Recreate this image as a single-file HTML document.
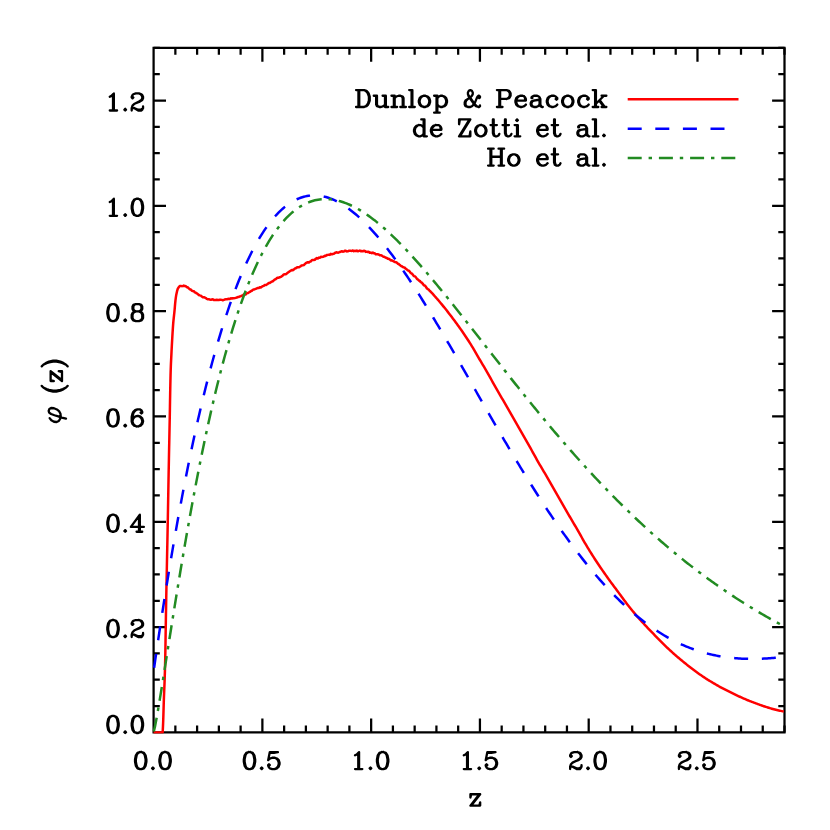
<!DOCTYPE html>
<html><head><meta charset="utf-8"><title>N(z)</title><style>html,body{margin:0;padding:0;background:#fff;font-family:"Liberation Sans",sans-serif}body{width:830px;height:830px;overflow:hidden;position:relative}</style></head><body>
<svg width="830" height="830" viewBox="0 0 830 830" style="position:absolute;left:0;top:0">
<rect x="0" y="0" width="830" height="830" fill="#fff"/>
<path d="M153.60 47.85 H784.50 V732.40 H153.60 Z" fill="none" stroke="#000" stroke-width="2.25" stroke-linejoin="miter"/>
<path d="M175.36 732.40 v-7.00 M175.36 47.85 v7.00 M197.11 732.40 v-7.00 M197.11 47.85 v7.00 M218.87 732.40 v-7.00 M218.87 47.85 v7.00 M240.62 732.40 v-7.00 M240.62 47.85 v7.00 M262.38 732.40 v-14.00 M262.38 47.85 v14.00 M284.13 732.40 v-7.00 M284.13 47.85 v7.00 M305.89 732.40 v-7.00 M305.89 47.85 v7.00 M327.64 732.40 v-7.00 M327.64 47.85 v7.00 M349.40 732.40 v-7.00 M349.40 47.85 v7.00 M371.15 732.40 v-14.00 M371.15 47.85 v14.00 M392.91 732.40 v-7.00 M392.91 47.85 v7.00 M414.66 732.40 v-7.00 M414.66 47.85 v7.00 M436.42 732.40 v-7.00 M436.42 47.85 v7.00 M458.17 732.40 v-7.00 M458.17 47.85 v7.00 M479.93 732.40 v-14.00 M479.93 47.85 v14.00 M501.68 732.40 v-7.00 M501.68 47.85 v7.00 M523.44 732.40 v-7.00 M523.44 47.85 v7.00 M545.19 732.40 v-7.00 M545.19 47.85 v7.00 M566.95 732.40 v-7.00 M566.95 47.85 v7.00 M588.70 732.40 v-14.00 M588.70 47.85 v14.00 M610.46 732.40 v-7.00 M610.46 47.85 v7.00 M632.21 732.40 v-7.00 M632.21 47.85 v7.00 M653.97 732.40 v-7.00 M653.97 47.85 v7.00 M675.72 732.40 v-7.00 M675.72 47.85 v7.00 M697.48 732.40 v-14.00 M697.48 47.85 v14.00 M719.23 732.40 v-7.00 M719.23 47.85 v7.00 M740.99 732.40 v-7.00 M740.99 47.85 v7.00 M762.74 732.40 v-7.00 M762.74 47.85 v7.00 M784.50 732.40 v-7.00 M784.50 47.85 v7.00 M153.60 706.07 h6.20 M784.50 706.07 h-6.20 M153.60 679.74 h6.20 M784.50 679.74 h-6.20 M153.60 653.41 h6.20 M784.50 653.41 h-6.20 M153.60 627.08 h12.40 M784.50 627.08 h-12.40 M153.60 600.76 h6.20 M784.50 600.76 h-6.20 M153.60 574.43 h6.20 M784.50 574.43 h-6.20 M153.60 548.10 h6.20 M784.50 548.10 h-6.20 M153.60 521.77 h12.40 M784.50 521.77 h-12.40 M153.60 495.44 h6.20 M784.50 495.44 h-6.20 M153.60 469.11 h6.20 M784.50 469.11 h-6.20 M153.60 442.78 h6.20 M784.50 442.78 h-6.20 M153.60 416.45 h12.40 M784.50 416.45 h-12.40 M153.60 390.12 h6.20 M784.50 390.12 h-6.20 M153.60 363.80 h6.20 M784.50 363.80 h-6.20 M153.60 337.47 h6.20 M784.50 337.47 h-6.20 M153.60 311.14 h12.40 M784.50 311.14 h-12.40 M153.60 284.81 h6.20 M784.50 284.81 h-6.20 M153.60 258.48 h6.20 M784.50 258.48 h-6.20 M153.60 232.15 h6.20 M784.50 232.15 h-6.20 M153.60 205.82 h12.40 M784.50 205.82 h-12.40 M153.60 179.49 h6.20 M784.50 179.49 h-6.20 M153.60 153.17 h6.20 M784.50 153.17 h-6.20 M153.60 126.84 h6.20 M784.50 126.84 h-6.20 M153.60 100.51 h12.40 M784.50 100.51 h-12.40 M153.60 74.18 h6.20 M784.50 74.18 h-6.20 M153.60 47.85 h6.20 M784.50 47.85 h-6.20" fill="none" stroke="#000" stroke-width="2.25"/>
<defs><clipPath id="cp"><rect x="152.60" y="46.85" width="632.90" height="686.55"/></clipPath></defs>
<g clip-path="url(#cp)" fill="none" stroke-width="2.50" stroke-linejoin="round">
<path d="M153.60 732.40 L162.65 732.40 L162.83 729.40 L162.98 726.40 L163.11 723.40 L163.22 720.40 L163.32 717.40 L163.41 714.40 L163.50 711.40 L163.59 708.40 L163.68 705.40 L163.77 702.40 L163.87 699.40 L163.98 696.40 L164.10 693.40 L164.22 690.40 L164.35 687.40 L164.47 684.40 L164.58 681.40 L164.69 678.40 L164.78 675.40 L164.88 672.40 L164.96 669.40 L165.05 666.40 L165.12 663.40 L165.19 660.40 L165.25 657.40 L165.31 654.40 L165.36 651.40 L165.41 648.40 L165.46 645.40 L165.51 642.40 L165.55 639.40 L165.60 636.40 L165.64 633.40 L165.69 630.40 L165.74 627.40 L165.79 624.40 L165.84 621.40 L165.89 618.40 L165.94 615.40 L165.99 612.40 L166.04 609.40 L166.09 606.40 L166.14 603.40 L166.19 600.40 L166.25 597.40 L166.30 594.40 L166.36 591.40 L166.42 588.40 L166.48 585.40 L166.54 582.40 L166.61 579.40 L166.67 576.40 L166.73 573.40 L166.79 570.40 L166.85 567.40 L166.91 564.40 L166.97 561.40 L167.03 558.40 L167.09 555.40 L167.15 552.40 L167.22 549.40 L167.28 546.40 L167.34 543.40 L167.40 540.40 L167.46 537.40 L167.52 534.40 L167.58 531.40 L167.64 528.40 L167.70 525.40 L167.75 522.40 L167.81 519.40 L167.87 516.40 L167.92 513.40 L167.98 510.40 L168.03 507.40 L168.08 504.40 L168.14 501.40 L168.19 498.40 L168.24 495.40 L168.30 492.40 L168.35 489.40 L168.40 486.40 L168.45 483.40 L168.51 480.40 L168.56 477.40 L168.62 474.40 L168.67 471.40 L168.73 468.40 L168.79 465.40 L168.85 462.40 L168.91 459.40 L168.96 456.40 L169.02 453.40 L169.08 450.40 L169.14 447.40 L169.21 444.40 L169.27 441.40 L169.33 438.40 L169.39 435.40 L169.45 432.40 L169.51 429.40 L169.57 426.40 L169.63 423.40 L169.69 420.40 L169.75 417.40 L169.81 414.40 L169.86 411.40 L169.91 408.40 L169.96 405.40 L170.01 402.40 L170.06 399.40 L170.12 396.40 L170.17 393.40 L170.22 390.40 L170.28 387.40 L170.34 384.40 L170.41 381.40 L170.48 378.40 L170.55 375.40 L170.63 372.40 L170.72 369.40 L170.83 366.40 L170.95 363.40 L171.10 360.40 L171.25 357.40 L171.40 354.40 L171.54 351.40 L171.70 348.40 L171.85 345.40 L172.02 342.40 L172.19 339.40 L172.36 336.40 L172.54 333.40 L172.73 330.40 L172.92 327.40 L173.14 324.40 L173.39 321.40 L173.70 318.40 L174.03 315.40 L174.36 312.40 L174.65 309.40 L174.90 306.40 L175.16 303.40 L175.47 300.40 L175.85 297.40 L176.33 294.40 L176.99 291.40 L177.80 288.70 L178.80 287.17 L179.80 285.98 L180.80 285.91 L181.80 286.13 L182.80 286.11 L183.80 285.55 L184.80 286.03 L185.80 286.32 L186.80 287.17 L187.80 287.33 L188.80 288.40 L189.80 289.27 L190.80 289.55 L191.80 290.57 L192.80 291.11 L193.80 291.17 L194.80 292.33 L195.80 292.66 L196.80 293.46 L197.80 293.99 L198.80 295.05 L199.80 295.40 L200.80 295.66 L201.80 296.54 L202.80 297.25 L203.80 297.21 L204.80 297.51 L205.80 298.02 L206.80 298.89 L207.80 299.22 L208.80 299.18 L209.80 299.63 L210.80 299.75 L211.80 299.47 L212.80 299.36 L213.80 300.07 L214.80 300.09 L215.80 299.95 L216.80 299.82 L217.80 299.99 L218.80 300.03 L219.80 299.79 L220.80 299.77 L221.80 299.88 L222.80 300.23 L223.80 299.87 L224.80 299.47 L225.80 299.34 L226.80 299.37 L227.80 298.98 L228.80 298.82 L229.80 298.97 L230.80 298.35 L231.80 298.54 L232.80 298.20 L233.80 298.32 L234.80 298.13 L235.80 297.84 L236.80 297.58 L237.80 297.00 L238.80 297.01 L239.80 296.37 L240.80 296.26 L241.80 295.63 L242.80 295.34 L243.80 294.50 L244.80 294.22 L245.80 294.47 L246.80 293.23 L247.80 293.13 L248.80 292.50 L249.80 291.98 L250.80 291.17 L251.80 290.79 L252.80 289.83 L253.80 289.44 L254.80 289.21 L255.80 288.82 L256.80 288.41 L257.80 288.05 L258.80 288.06 L259.80 287.25 L260.80 287.55 L261.80 286.80 L262.80 286.18 L263.80 285.85 L264.80 284.92 L265.80 285.08 L266.80 284.49 L267.80 283.86 L268.80 283.08 L269.80 282.91 L270.80 282.25 L271.80 281.59 L272.80 281.25 L273.80 280.37 L274.80 279.51 L275.80 279.12 L276.80 278.21 L277.80 277.68 L278.80 277.69 L279.80 277.24 L280.80 276.91 L281.80 276.26 L282.80 275.42 L283.80 274.42 L284.80 274.26 L285.80 274.15 L286.80 273.45 L287.80 272.60 L288.80 272.03 L289.80 271.25 L290.80 270.66 L291.80 270.02 L292.80 270.31 L293.80 269.54 L294.80 268.55 L295.80 268.34 L296.80 267.52 L297.80 267.22 L298.80 267.29 L299.80 266.74 L300.80 266.09 L301.80 265.40 L302.80 265.29 L303.80 265.10 L304.80 264.08 L305.80 263.22 L306.80 262.71 L307.80 262.22 L308.80 262.58 L309.80 261.65 L310.80 261.44 L311.80 260.30 L312.80 259.94 L313.80 259.94 L314.80 259.73 L315.80 258.77 L316.80 258.11 L317.80 258.54 L318.80 257.62 L319.80 257.73 L320.80 256.83 L321.80 257.05 L322.80 256.89 L323.80 256.48 L324.80 255.81 L325.80 255.88 L326.80 255.00 L327.80 254.89 L328.80 254.71 L329.80 254.89 L330.80 253.88 L331.80 254.33 L332.80 253.96 L333.80 253.86 L334.80 252.98 L335.80 252.56 L336.80 252.33 L337.80 252.65 L338.80 252.51 L339.80 251.99 L340.80 251.56 L341.80 251.21 L342.80 251.66 L343.80 251.61 L344.80 250.76 L345.80 250.83 L346.80 251.39 L347.80 251.36 L348.80 250.78 L349.80 250.71 L350.80 250.82 L351.80 250.90 L352.80 250.43 L353.80 251.14 L354.80 250.82 L355.80 251.04 L356.80 250.47 L357.80 251.19 L358.80 250.96 L359.80 250.54 L360.80 251.17 L361.80 251.03 L362.80 251.35 L363.80 250.76 L364.80 250.99 L365.80 251.89 L366.80 251.63 L367.80 252.02 L368.80 251.84 L369.80 252.86 L370.80 252.58 L371.80 253.13 L372.80 252.63 L373.80 253.32 L374.80 253.21 L375.80 254.37 L376.80 254.27 L377.80 254.23 L378.80 254.57 L379.80 255.36 L380.80 255.23 L381.80 255.68 L382.80 256.29 L383.80 256.74 L384.80 257.24 L385.80 257.75 L386.80 258.00 L387.80 258.77 L388.80 258.84 L389.80 259.47 L390.80 260.49 L391.80 260.33 L392.80 260.87 L393.80 261.37 L394.80 262.10 L395.80 262.13 L396.80 262.70 L397.80 263.70 L398.80 263.98 L399.80 265.10 L400.80 265.84 L401.80 266.26 L402.80 267.02 L403.80 267.37 L404.80 267.70 L405.80 268.78 L406.80 269.43 L407.80 270.41 L408.80 270.74 L409.80 271.68 L410.80 273.15 L411.80 273.53 L412.80 274.61 L413.80 276.07 L414.80 276.34 L415.80 277.15 L416.80 278.66 L417.80 279.48 L418.80 280.49 L419.80 280.87 L420.80 282.18 L421.80 282.68 L422.80 283.83 L423.80 285.19 L424.80 285.45 L425.80 286.60 L426.80 288.23 L427.80 289.18 L428.80 289.69 L429.80 290.97 L430.80 291.79 L431.80 292.87 L432.80 293.96 L433.80 295.08 L434.80 296.21 L435.80 297.34 L436.80 298.49 L437.80 299.64 L438.80 300.80 L439.80 301.99 L440.80 303.18 L441.80 304.39 L442.80 305.61 L443.80 306.84 L444.80 308.08 L445.80 309.33 L446.80 310.59 L447.80 311.86 L448.80 313.15 L449.80 314.44 L450.80 315.75 L451.80 317.07 L452.80 318.40 L453.80 319.73 L454.80 321.08 L455.80 322.44 L456.80 323.80 L457.80 325.18 L458.80 326.57 L459.80 327.97 L460.80 329.39 L461.80 330.82 L462.80 332.27 L463.80 333.73 L464.80 335.20 L465.80 336.69 L466.80 338.19 L467.80 339.72 L468.80 341.26 L469.80 342.83 L470.80 344.42 L471.80 346.05 L472.80 347.73 L473.80 349.43 L474.80 351.15 L475.80 352.88 L476.80 354.62 L477.80 356.35 L478.80 358.06 L479.80 359.75 L480.80 361.44 L481.80 363.12 L482.80 364.80 L483.80 366.48 L484.80 368.17 L485.80 369.87 L486.80 371.58 L487.80 373.32 L488.80 375.09 L489.80 376.89 L490.80 378.70 L491.80 380.52 L492.80 382.34 L493.80 384.15 L494.80 385.95 L495.80 387.72 L496.80 389.47 L497.80 391.20 L498.80 392.91 L499.80 394.61 L500.80 396.31 L501.80 398.01 L502.80 399.72 L503.80 401.43 L504.80 403.17 L505.80 404.92 L506.80 406.68 L507.80 408.44 L508.80 410.20 L509.80 411.95 L510.80 413.70 L511.80 415.44 L512.80 417.18 L513.80 418.92 L514.80 420.66 L515.80 422.40 L516.80 424.14 L517.80 425.88 L518.80 427.63 L519.80 429.37 L520.80 431.12 L521.80 432.86 L522.80 434.60 L523.80 436.35 L524.80 438.09 L525.80 439.84 L526.80 441.60 L527.80 443.36 L528.80 445.12 L529.80 446.90 L530.80 448.70 L531.80 450.50 L532.80 452.31 L533.80 454.12 L534.80 455.93 L535.80 457.73 L536.80 459.52 L537.80 461.30 L538.80 463.05 L539.80 464.78 L540.80 466.49 L541.80 468.18 L542.80 469.87 L543.80 471.55 L544.80 473.23 L545.80 474.91 L546.80 476.60 L547.80 478.31 L548.80 480.04 L549.80 481.77 L550.80 483.51 L551.80 485.26 L552.80 487.02 L553.80 488.77 L554.80 490.53 L555.80 492.29 L556.80 494.05 L557.80 495.80 L558.80 497.55 L559.80 499.31 L560.80 501.07 L561.80 502.83 L562.80 504.59 L563.80 506.35 L564.80 508.10 L565.80 509.85 L566.80 511.59 L567.80 513.32 L568.80 515.04 L569.80 516.75 L570.80 518.45 L571.80 520.15 L572.80 521.85 L573.80 523.55 L574.80 525.25 L575.80 526.96 L576.80 528.68 L577.80 530.42 L578.80 532.17 L579.80 533.94 L580.80 535.72 L581.80 537.50 L582.80 539.27 L583.80 541.03 L584.80 542.77 L585.80 544.48 L586.80 546.17 L587.80 547.82 L588.80 549.46 L589.80 551.09 L590.80 552.70 L591.80 554.29 L592.80 555.86 L593.80 557.42 L594.80 558.97 L595.80 560.50 L596.80 562.02 L597.80 563.52 L598.80 565.01 L599.80 566.49 L600.80 567.95 L601.80 569.41 L602.80 570.86 L603.80 572.29 L604.80 573.72 L605.80 575.14 L606.80 576.55 L607.80 577.96 L608.80 579.36 L609.80 580.75 L610.80 582.12 L611.80 583.48 L612.80 584.83 L613.80 586.18 L614.80 587.51 L615.80 588.85 L616.80 590.19 L617.80 591.52 L618.80 592.87 L619.80 594.22 L620.80 595.59 L621.80 596.96 L622.80 598.32 L623.80 599.68 L624.80 601.03 L625.80 602.37 L626.80 603.69 L627.80 604.99 L628.80 606.26 L629.80 607.52 L630.80 608.76 L631.80 609.99 L632.80 611.21 L633.80 612.41 L634.80 613.60 L635.80 614.78 L636.80 615.95 L637.80 617.10 L638.80 618.24 L639.80 619.37 L640.80 620.48 L641.80 621.58 L642.80 622.67 L643.80 623.75 L644.80 624.82 L645.80 625.89 L646.80 626.96 L647.80 628.02 L648.80 629.07 L649.80 630.12 L650.80 631.16 L651.80 632.19 L652.80 633.22 L653.80 634.24 L654.80 635.26 L655.80 636.28 L656.80 637.30 L657.80 638.31 L658.80 639.33 L659.80 640.35 L660.80 641.36 L661.80 642.38 L662.80 643.38 L663.80 644.38 L664.80 645.36 L665.80 646.34 L666.80 647.30 L667.80 648.24 L668.80 649.18 L669.80 650.10 L670.80 651.02 L671.80 651.93 L672.80 652.83 L673.80 653.72 L674.80 654.60 L675.80 655.48 L676.80 656.35 L677.80 657.21 L678.80 658.06 L679.80 658.91 L680.80 659.75 L681.80 660.58 L682.80 661.40 L683.80 662.22 L684.80 663.03 L685.80 663.84 L686.80 664.64 L687.80 665.43 L688.80 666.22 L689.80 667.01 L690.80 667.78 L691.80 668.55 L692.80 669.32 L693.80 670.07 L694.80 670.82 L695.80 671.55 L696.80 672.28 L697.80 673.00 L698.80 673.70 L699.80 674.40 L700.80 675.08 L701.80 675.76 L702.80 676.44 L703.80 677.11 L704.80 677.77 L705.80 678.43 L706.80 679.08 L707.80 679.71 L708.80 680.34 L709.80 680.95 L710.80 681.55 L711.80 682.14 L712.80 682.73 L713.80 683.32 L714.80 683.92 L715.80 684.51 L716.80 685.11 L717.80 685.69 L718.80 686.27 L719.80 686.83 L720.80 687.38 L721.80 687.91 L722.80 688.43 L723.80 688.94 L724.80 689.45 L725.80 689.95 L726.80 690.45 L727.80 690.95 L728.80 691.44 L729.80 691.93 L730.80 692.42 L731.80 692.91 L732.80 693.39 L733.80 693.88 L734.80 694.37 L735.80 694.86 L736.80 695.34 L737.80 695.81 L738.80 696.28 L739.80 696.74 L740.80 697.19 L741.80 697.64 L742.80 698.09 L743.80 698.53 L744.80 698.96 L745.80 699.39 L746.80 699.81 L747.80 700.23 L748.80 700.64 L749.80 701.04 L750.80 701.44 L751.80 701.82 L752.80 702.20 L753.80 702.57 L754.80 702.94 L755.80 703.31 L756.80 703.69 L757.80 704.06 L758.80 704.44 L759.80 704.81 L760.80 705.17 L761.80 705.53 L762.80 705.87 L763.80 706.20 L764.80 706.52 L765.80 706.83 L766.80 707.14 L767.80 707.45 L768.80 707.75 L769.80 708.07 L770.80 708.38 L771.80 708.69 L772.80 708.99 L773.80 709.27 L774.80 709.53 L775.80 709.77 L776.80 710.00 L777.80 710.22 L778.80 710.44 L779.80 710.66 L780.80 710.89 L781.80 711.12 L782.80 711.36 L783.80 711.59" stroke="#ff0000"/>
<path d="M153.60 671.47 L155.18 660.44 L156.76 649.57 L158.34 638.86 L159.92 628.32 L161.51 617.93 L163.09 607.70 L164.67 597.63 L166.25 587.72 L167.83 577.95 L169.41 568.35 L170.99 558.89 L172.57 549.59 L174.16 540.43 L175.74 531.43 L177.32 522.57 L178.90 513.86 L180.48 505.29 L182.06 496.87 L183.64 488.59 L185.22 480.45 L186.81 472.45 L188.39 464.60 L189.97 456.88 L191.55 449.30 L193.13 441.85 L194.71 434.54 L196.29 427.36 L197.87 420.32 L199.45 413.41 L201.04 406.63 L202.62 399.98 L204.20 393.45 L205.78 387.06 L207.36 380.79 L208.94 374.65 L210.52 368.63 L212.10 362.73 L213.69 356.96 L215.27 351.30 L216.85 345.77 L218.43 340.35 L220.01 335.06 L221.59 329.88 L223.17 324.81 L224.75 319.86 L226.34 315.03 L227.92 310.30 L229.50 305.69 L231.08 301.19 L232.66 296.80 L234.24 292.51 L235.82 288.34 L237.40 284.27 L238.98 280.30 L240.57 276.44 L242.15 272.69 L243.73 269.03 L245.31 265.48 L246.89 262.03 L248.47 258.68 L250.05 255.43 L251.63 252.27 L253.22 249.21 L254.80 246.25 L256.38 243.38 L257.96 240.61 L259.54 237.92 L261.12 235.33 L262.70 232.83 L264.28 230.42 L265.87 228.10 L267.45 225.87 L269.03 223.73 L270.61 221.67 L272.19 219.70 L273.77 217.81 L275.35 216.00 L276.93 214.28 L278.52 212.64 L280.10 211.08 L281.68 209.60 L283.26 208.20 L284.84 206.87 L286.42 205.63 L288.00 204.46 L289.58 203.36 L291.16 202.34 L292.75 201.40 L294.33 200.53 L295.91 199.72 L297.49 199.00 L299.07 198.34 L300.65 197.75 L302.23 197.22 L303.81 196.77 L305.40 196.38 L306.98 196.06 L308.56 195.81 L310.14 195.62 L311.72 195.49 L313.30 195.43 L314.88 195.42 L316.46 195.48 L318.05 195.60 L319.63 195.78 L321.21 196.02 L322.79 196.31 L324.37 196.66 L325.95 197.07 L327.53 197.54 L329.11 198.06 L330.69 198.63 L332.28 199.26 L333.86 199.94 L335.44 200.67 L337.02 201.45 L338.60 202.28 L340.18 203.16 L341.76 204.09 L343.34 205.07 L344.93 206.10 L346.51 207.17 L348.09 208.29 L349.67 209.45 L351.25 210.66 L352.83 211.91 L354.41 213.21 L355.99 214.54 L357.58 215.92 L359.16 217.34 L360.74 218.80 L362.32 220.30 L363.90 221.83 L365.48 223.41 L367.06 225.02 L368.64 226.67 L370.22 228.35 L371.81 230.07 L373.39 231.83 L374.97 233.62 L376.55 235.44 L378.13 237.30 L379.71 239.18 L381.29 241.10 L382.87 243.05 L384.46 245.03 L386.04 247.04 L387.62 249.08 L389.20 251.14 L390.78 253.24 L392.36 255.36 L393.94 257.50 L395.52 259.67 L397.11 261.87 L398.69 264.09 L400.27 266.34 L401.85 268.61 L403.43 270.90 L405.01 273.21 L406.59 275.55 L408.17 277.91 L409.75 280.28 L411.34 282.68 L412.92 285.10 L414.50 287.53 L416.08 289.98 L417.66 292.46 L419.24 294.94 L420.82 297.45 L422.40 299.97 L423.99 302.50 L425.57 305.05 L427.15 307.62 L428.73 310.20 L430.31 312.79 L431.89 315.39 L433.47 318.01 L435.05 320.64 L436.64 323.28 L438.22 325.93 L439.80 328.59 L441.38 331.26 L442.96 333.94 L444.54 336.62 L446.12 339.32 L447.70 342.02 L449.28 344.73 L450.87 347.45 L452.45 350.18 L454.03 352.91 L455.61 355.64 L457.19 358.38 L458.77 361.13 L460.35 363.88 L461.93 366.63 L463.52 369.39 L465.10 372.14 L466.68 374.91 L468.26 377.67 L469.84 380.43 L471.42 383.20 L473.00 385.96 L474.58 388.73 L476.17 391.50 L477.75 394.26 L479.33 397.02 L480.91 399.79 L482.49 402.55 L484.07 405.31 L485.65 408.06 L487.23 410.81 L488.82 413.56 L490.40 416.31 L491.98 419.05 L493.56 421.79 L495.14 424.52 L496.72 427.25 L498.30 429.97 L499.88 432.68 L501.46 435.39 L503.05 438.10 L504.63 440.79 L506.21 443.48 L507.79 446.16 L509.37 448.83 L510.95 451.50 L512.53 454.15 L514.11 456.80 L515.70 459.44 L517.28 462.07 L518.86 464.69 L520.44 467.30 L522.02 469.89 L523.60 472.48 L525.18 475.06 L526.76 477.62 L528.35 480.18 L529.93 482.72 L531.51 485.25 L533.09 487.76 L534.67 490.27 L536.25 492.76 L537.83 495.24 L539.41 497.70 L540.99 500.15 L542.58 502.59 L544.16 505.02 L545.74 507.42 L547.32 509.82 L548.90 512.20 L550.48 514.56 L552.06 516.91 L553.64 519.25 L555.23 521.56 L556.81 523.87 L558.39 526.15 L559.97 528.42 L561.55 530.67 L563.13 532.91 L564.71 535.13 L566.29 537.33 L567.88 539.52 L569.46 541.68 L571.04 543.83 L572.62 545.97 L574.20 548.08 L575.78 550.18 L577.36 552.25 L578.94 554.31 L580.52 556.35 L582.11 558.38 L583.69 560.38 L585.27 562.36 L586.85 564.33 L588.43 566.28 L590.01 568.20 L591.59 570.11 L593.17 572.00 L594.76 573.86 L596.34 575.71 L597.92 577.54 L599.50 579.35 L601.08 581.13 L602.66 582.90 L604.24 584.65 L605.82 586.37 L607.41 588.08 L608.99 589.77 L610.57 591.43 L612.15 593.07 L613.73 594.70 L615.31 596.30 L616.89 597.88 L618.47 599.44 L620.05 600.98 L621.64 602.50 L623.22 604.00 L624.80 605.47 L626.38 606.93 L627.96 608.36 L629.54 609.77 L631.12 611.17 L632.70 612.53 L634.29 613.88 L635.87 615.21 L637.45 616.52 L639.03 617.80 L640.61 619.06 L642.19 620.31 L643.77 621.53 L645.35 622.73 L646.94 623.90 L648.52 625.06 L650.10 626.20 L651.68 627.31 L653.26 628.40 L654.84 629.48 L656.42 630.53 L658.00 631.56 L659.58 632.57 L661.17 633.55 L662.75 634.52 L664.33 635.47 L665.91 636.39 L667.49 637.30 L669.07 638.18 L670.65 639.05 L672.23 639.89 L673.82 640.71 L675.40 641.51 L676.98 642.30 L678.56 643.06 L680.14 643.80 L681.72 644.52 L683.30 645.22 L684.88 645.91 L686.47 646.57 L688.05 647.21 L689.63 647.84 L691.21 648.44 L692.79 649.03 L694.37 649.60 L695.95 650.14 L697.53 650.67 L699.12 651.18 L700.70 651.68 L702.28 652.15 L703.86 652.61 L705.44 653.05 L707.02 653.47 L708.60 653.87 L710.18 654.26 L711.76 654.63 L713.35 654.98 L714.93 655.31 L716.51 655.63 L718.09 655.93 L719.67 656.22 L721.25 656.49 L722.83 656.74 L724.41 656.98 L726.00 657.20 L727.58 657.41 L729.16 657.60 L730.74 657.78 L732.32 657.95 L733.90 658.09 L735.48 658.23 L737.06 658.35 L738.65 658.46 L740.23 658.55 L741.81 658.63 L743.39 658.70 L744.97 658.76 L746.55 658.80 L748.13 658.84 L749.71 658.86 L751.29 658.86 L752.88 658.86 L754.46 658.85 L756.04 658.82 L757.62 658.79 L759.20 658.75 L760.78 658.69 L762.36 658.63 L763.94 658.56 L765.53 658.48 L767.11 658.39 L768.69 658.29 L770.27 658.18 L771.85 658.07 L773.43 657.95 L775.01 657.82 L776.59 657.69 L778.18 657.55 L779.76 657.41 L781.34 657.26 L782.92 657.10 L784.50 656.94" stroke="#0000ff" stroke-dasharray="14 13.71" stroke-dashoffset="-3.80"/>
<path d="M153.60 732.40 L155.18 725.61 L156.76 717.18 L158.34 708.10 L159.92 698.65 L161.51 688.95 L163.09 679.11 L164.67 669.17 L166.25 659.17 L167.83 649.17 L169.41 639.16 L170.99 629.19 L172.57 619.27 L174.16 609.40 L175.74 599.61 L177.32 589.91 L178.90 580.29 L180.48 570.77 L182.06 561.36 L183.64 552.07 L185.22 542.88 L186.81 533.82 L188.39 524.88 L189.97 516.06 L191.55 507.38 L193.13 498.82 L194.71 490.40 L196.29 482.11 L197.87 473.96 L199.45 465.94 L201.04 458.06 L202.62 450.32 L204.20 442.71 L205.78 435.24 L207.36 427.91 L208.94 420.72 L210.52 413.66 L212.10 406.74 L213.69 399.96 L215.27 393.31 L216.85 386.80 L218.43 380.43 L220.01 374.18 L221.59 368.08 L223.17 362.10 L224.75 356.25 L226.34 350.54 L227.92 344.95 L229.50 339.50 L231.08 334.17 L232.66 328.96 L234.24 323.88 L235.82 318.93 L237.40 314.10 L238.98 309.38 L240.57 304.79 L242.15 300.32 L243.73 295.96 L245.31 291.73 L246.89 287.60 L248.47 283.59 L250.05 279.69 L251.63 275.91 L253.22 272.23 L254.80 268.66 L256.38 265.20 L257.96 261.84 L259.54 258.59 L261.12 255.44 L262.70 252.39 L264.28 249.44 L265.87 246.59 L267.45 243.84 L269.03 241.18 L270.61 238.62 L272.19 236.16 L273.77 233.78 L275.35 231.50 L276.93 229.31 L278.52 227.20 L280.10 225.18 L281.68 223.25 L283.26 221.40 L284.84 219.64 L286.42 217.96 L288.00 216.36 L289.58 214.83 L291.16 213.39 L292.75 212.02 L294.33 210.73 L295.91 209.52 L297.49 208.37 L299.07 207.30 L300.65 206.30 L302.23 205.38 L303.81 204.52 L305.40 203.72 L306.98 203.00 L308.56 202.34 L310.14 201.74 L311.72 201.21 L313.30 200.74 L314.88 200.33 L316.46 199.98 L318.05 199.69 L319.63 199.46 L321.21 199.28 L322.79 199.16 L324.37 199.10 L325.95 199.09 L327.53 199.13 L329.11 199.23 L330.69 199.37 L332.28 199.57 L333.86 199.81 L335.44 200.11 L337.02 200.45 L338.60 200.83 L340.18 201.26 L341.76 201.74 L343.34 202.26 L344.93 202.83 L346.51 203.43 L348.09 204.08 L349.67 204.77 L351.25 205.49 L352.83 206.26 L354.41 207.06 L355.99 207.90 L357.58 208.78 L359.16 209.69 L360.74 210.64 L362.32 211.62 L363.90 212.63 L365.48 213.68 L367.06 214.76 L368.64 215.87 L370.22 217.01 L371.81 218.18 L373.39 219.38 L374.97 220.61 L376.55 221.87 L378.13 223.15 L379.71 224.46 L381.29 225.80 L382.87 227.16 L384.46 228.54 L386.04 229.95 L387.62 231.39 L389.20 232.84 L390.78 234.32 L392.36 235.82 L393.94 237.34 L395.52 238.88 L397.11 240.44 L398.69 242.03 L400.27 243.63 L401.85 245.24 L403.43 246.88 L405.01 248.53 L406.59 250.20 L408.17 251.89 L409.75 253.59 L411.34 255.31 L412.92 257.04 L414.50 258.79 L416.08 260.55 L417.66 262.33 L419.24 264.12 L420.82 265.92 L422.40 267.73 L423.99 269.56 L425.57 271.39 L427.15 273.24 L428.73 275.10 L430.31 276.97 L431.89 278.84 L433.47 280.73 L435.05 282.63 L436.64 284.53 L438.22 286.45 L439.80 288.37 L441.38 290.30 L442.96 292.24 L444.54 294.18 L446.12 296.13 L447.70 298.09 L449.28 300.05 L450.87 302.02 L452.45 303.99 L454.03 305.97 L455.61 307.95 L457.19 309.94 L458.77 311.93 L460.35 313.93 L461.93 315.93 L463.52 317.93 L465.10 319.94 L466.68 321.95 L468.26 323.96 L469.84 325.97 L471.42 327.99 L473.00 330.00 L474.58 332.02 L476.17 334.04 L477.75 336.06 L479.33 338.08 L480.91 340.11 L482.49 342.13 L484.07 344.15 L485.65 346.17 L487.23 348.20 L488.82 350.22 L490.40 352.24 L491.98 354.26 L493.56 356.28 L495.14 358.30 L496.72 360.32 L498.30 362.33 L499.88 364.35 L501.46 366.36 L503.05 368.37 L504.63 370.37 L506.21 372.38 L507.79 374.38 L509.37 376.38 L510.95 378.38 L512.53 380.37 L514.11 382.36 L515.70 384.35 L517.28 386.33 L518.86 388.31 L520.44 390.29 L522.02 392.26 L523.60 394.23 L525.18 396.19 L526.76 398.15 L528.35 400.10 L529.93 402.05 L531.51 404.00 L533.09 405.94 L534.67 407.88 L536.25 409.81 L537.83 411.74 L539.41 413.66 L540.99 415.58 L542.58 417.49 L544.16 419.39 L545.74 421.29 L547.32 423.19 L548.90 425.07 L550.48 426.96 L552.06 428.83 L553.64 430.71 L555.23 432.57 L556.81 434.43 L558.39 436.28 L559.97 438.13 L561.55 439.97 L563.13 441.80 L564.71 443.63 L566.29 445.45 L567.88 447.27 L569.46 449.08 L571.04 450.88 L572.62 452.67 L574.20 454.46 L575.78 456.24 L577.36 458.01 L578.94 459.78 L580.52 461.54 L582.11 463.29 L583.69 465.04 L585.27 466.78 L586.85 468.51 L588.43 470.24 L590.01 471.95 L591.59 473.66 L593.17 475.37 L594.76 477.06 L596.34 478.75 L597.92 480.43 L599.50 482.11 L601.08 483.77 L602.66 485.43 L604.24 487.08 L605.82 488.73 L607.41 490.36 L608.99 491.99 L610.57 493.61 L612.15 495.23 L613.73 496.83 L615.31 498.43 L616.89 500.02 L618.47 501.60 L620.05 503.18 L621.64 504.75 L623.22 506.31 L624.80 507.86 L626.38 509.40 L627.96 510.94 L629.54 512.47 L631.12 513.99 L632.70 515.51 L634.29 517.01 L635.87 518.51 L637.45 520.00 L639.03 521.48 L640.61 522.96 L642.19 524.43 L643.77 525.89 L645.35 527.34 L646.94 528.78 L648.52 530.22 L650.10 531.65 L651.68 533.07 L653.26 534.48 L654.84 535.89 L656.42 537.29 L658.00 538.68 L659.58 540.06 L661.17 541.44 L662.75 542.80 L664.33 544.16 L665.91 545.51 L667.49 546.86 L669.07 548.20 L670.65 549.52 L672.23 550.85 L673.82 552.16 L675.40 553.47 L676.98 554.77 L678.56 556.06 L680.14 557.34 L681.72 558.62 L683.30 559.89 L684.88 561.15 L686.47 562.40 L688.05 563.65 L689.63 564.89 L691.21 566.12 L692.79 567.34 L694.37 568.56 L695.95 569.77 L697.53 570.97 L699.12 572.17 L700.70 573.36 L702.28 574.54 L703.86 575.71 L705.44 576.88 L707.02 578.04 L708.60 579.19 L710.18 580.33 L711.76 581.47 L713.35 582.60 L714.93 583.72 L716.51 584.84 L718.09 585.95 L719.67 587.05 L721.25 588.15 L722.83 589.23 L724.41 590.32 L726.00 591.39 L727.58 592.46 L729.16 593.52 L730.74 594.57 L732.32 595.62 L733.90 596.66 L735.48 597.70 L737.06 598.72 L738.65 599.74 L740.23 600.76 L741.81 601.76 L743.39 602.76 L744.97 603.76 L746.55 604.75 L748.13 605.73 L749.71 606.70 L751.29 607.67 L752.88 608.63 L754.46 609.59 L756.04 610.53 L757.62 611.48 L759.20 612.41 L760.78 613.34 L762.36 614.27 L763.94 615.18 L765.53 616.09 L767.11 617.00 L768.69 617.90 L770.27 618.79 L771.85 619.68 L773.43 620.56 L775.01 621.43 L776.59 622.30 L778.18 623.16 L779.76 624.02 L781.34 624.87 L782.92 625.72 L784.50 626.55" stroke="#228b22" stroke-dasharray="14 6.9 3.4 6.9" stroke-dashoffset="-1.0"/>
</g>
<path d="M139.91 752.05 L141.53 752.05 M139.91 752.05 L137.47 752.86 L135.85 755.30 L135.04 759.36 L135.04 761.79 L135.85 765.85 L137.47 768.29 L139.91 769.10 M139.91 752.05 L138.28 752.86 L137.47 753.67 L136.66 755.30 L135.85 759.36 L135.85 761.79 L136.66 765.85 L137.47 767.48 L138.28 768.29 L139.91 769.10 M141.53 752.05 L143.16 752.86 L143.97 753.67 L144.78 755.30 L145.59 759.36 L145.59 761.79 L144.78 765.85 L143.97 767.48 L143.16 768.29 L141.53 769.10 M141.53 752.05 L143.97 752.86 L145.59 755.30 L146.40 759.36 L146.40 761.79 L145.59 765.85 L143.97 768.29 L141.53 769.10 M139.91 769.10 L141.53 769.10 M152.90 767.48 L152.09 768.29 L152.90 769.10 L153.71 768.29 L152.90 767.48 M164.27 752.05 L165.89 752.05 M164.27 752.05 L161.83 752.86 L160.21 755.30 L159.40 759.36 L159.40 761.79 L160.21 765.85 L161.83 768.29 L164.27 769.10 M164.27 752.05 L162.64 752.86 L161.83 753.67 L161.02 755.30 L160.21 759.36 L160.21 761.79 L161.02 765.85 L161.83 767.48 L162.64 768.29 L164.27 769.10 M165.89 752.05 L167.52 752.86 L168.33 753.67 L169.14 755.30 L169.95 759.36 L169.95 761.79 L169.14 765.85 L168.33 767.48 L167.52 768.29 L165.89 769.10 M165.89 752.05 L168.33 752.86 L169.95 755.30 L170.76 759.36 L170.76 761.79 L169.95 765.85 L168.33 768.29 L165.89 769.10 M164.27 769.10 L165.89 769.10 M248.68 752.05 L250.31 752.05 M248.68 752.05 L246.25 752.86 L244.62 755.30 L243.81 759.36 L243.81 761.79 L244.62 765.85 L246.25 768.29 L248.68 769.10 M248.68 752.05 L247.06 752.86 L246.25 753.67 L245.44 755.30 L244.62 759.36 L244.62 761.79 L245.44 765.85 L246.25 767.48 L247.06 768.29 L248.68 769.10 M250.31 752.05 L251.93 752.86 L252.74 753.67 L253.56 755.30 L254.37 759.36 L254.37 761.79 L253.56 765.85 L252.74 767.48 L251.93 768.29 L250.31 769.10 M250.31 752.05 L252.74 752.86 L254.37 755.30 L255.18 759.36 L255.18 761.79 L254.37 765.85 L252.74 768.29 L250.31 769.10 M248.68 769.10 L250.31 769.10 M261.68 767.48 L260.86 768.29 L261.68 769.10 L262.49 768.29 L261.68 767.48 M269.80 752.86 L273.86 752.86 L277.92 752.05 L269.80 752.05 L268.17 760.17 L269.80 758.54 L272.23 757.73 L274.67 757.73 M274.67 757.73 L276.29 758.54 L277.92 760.17 L278.73 762.60 L278.73 764.23 L277.92 766.66 L276.29 768.29 L274.67 769.10 M274.67 757.73 L277.10 758.54 L278.73 760.17 L279.54 762.60 L279.54 764.23 L278.73 766.66 L277.10 768.29 L274.67 769.10 M268.98 765.85 L269.80 765.04 L268.98 764.23 L268.17 765.04 L268.17 765.85 L268.98 767.48 L269.80 768.29 L272.23 769.10 L274.67 769.10 M359.08 769.10 L359.08 752.05 L356.65 754.48 L355.02 755.30 M358.27 752.86 L358.27 769.10 M355.02 769.10 L362.33 769.10 M370.45 767.48 L369.64 768.29 L370.45 769.10 L371.26 768.29 L370.45 767.48 M381.82 752.05 L383.44 752.05 M381.82 752.05 L379.38 752.86 L377.76 755.30 L376.95 759.36 L376.95 761.79 L377.76 765.85 L379.38 768.29 L381.82 769.10 M381.82 752.05 L380.20 752.86 L379.38 753.67 L378.57 755.30 L377.76 759.36 L377.76 761.79 L378.57 765.85 L379.38 767.48 L380.20 768.29 L381.82 769.10 M383.44 752.05 L385.07 752.86 L385.88 753.67 L386.69 755.30 L387.50 759.36 L387.50 761.79 L386.69 765.85 L385.88 767.48 L385.07 768.29 L383.44 769.10 M383.44 752.05 L385.88 752.86 L387.50 755.30 L388.32 759.36 L388.32 761.79 L387.50 765.85 L385.88 768.29 L383.44 769.10 M381.82 769.10 L383.44 769.10 M467.86 769.10 L467.86 752.05 L465.42 754.48 L463.80 755.30 M467.05 752.86 L467.05 769.10 M463.80 769.10 L471.11 769.10 M479.23 767.48 L478.42 768.29 L479.23 769.10 L480.04 768.29 L479.23 767.48 M487.35 752.86 L491.41 752.86 L495.47 752.05 L487.35 752.05 L485.72 760.17 L487.35 758.54 L489.78 757.73 L492.22 757.73 M492.22 757.73 L493.84 758.54 L495.47 760.17 L496.28 762.60 L496.28 764.23 L495.47 766.66 L493.84 768.29 L492.22 769.10 M492.22 757.73 L494.66 758.54 L496.28 760.17 L497.09 762.60 L497.09 764.23 L496.28 766.66 L494.66 768.29 L492.22 769.10 M486.54 765.85 L487.35 765.04 L486.54 764.23 L485.72 765.04 L485.72 765.85 L486.54 767.48 L487.35 768.29 L489.78 769.10 L492.22 769.10 M577.45 752.05 L574.20 752.05 L571.76 752.86 L570.95 753.67 L570.14 755.30 L570.14 756.11 L570.95 756.92 L571.76 756.11 L570.95 755.30 M577.45 752.05 L579.07 752.86 L579.88 753.67 L580.70 755.30 L580.70 756.92 L579.88 758.54 L577.45 760.17 L572.58 762.60 L570.95 764.23 L570.14 766.66 L570.14 769.10 M577.45 752.05 L579.88 752.86 L580.70 753.67 L581.51 755.30 L581.51 756.92 L580.70 758.54 L578.26 760.17 L574.20 761.79 M581.51 765.04 L581.51 766.66 M581.51 766.66 L580.70 767.48 L579.07 768.29 L576.64 768.29 L572.58 766.66 M581.51 766.66 L580.70 768.29 L579.88 769.10 L576.64 769.10 L572.58 766.66 M572.58 766.66 L570.95 766.66 L570.14 767.48 M588.00 767.48 L587.19 768.29 L588.00 769.10 L588.82 768.29 L588.00 767.48 M599.37 752.05 L601.00 752.05 M599.37 752.05 L596.94 752.86 L595.31 755.30 L594.50 759.36 L594.50 761.79 L595.31 765.85 L596.94 768.29 L599.37 769.10 M599.37 752.05 L597.75 752.86 L596.94 753.67 L596.12 755.30 L595.31 759.36 L595.31 761.79 L596.12 765.85 L596.94 767.48 L597.75 768.29 L599.37 769.10 M601.00 752.05 L602.62 752.86 L603.43 753.67 L604.24 755.30 L605.06 759.36 L605.06 761.79 L604.24 765.85 L603.43 767.48 L602.62 768.29 L601.00 769.10 M601.00 752.05 L603.43 752.86 L605.06 755.30 L605.87 759.36 L605.87 761.79 L605.06 765.85 L603.43 768.29 L601.00 769.10 M599.37 769.10 L601.00 769.10 M686.22 752.05 L682.98 752.05 L680.54 752.86 L679.73 753.67 L678.92 755.30 L678.92 756.11 L679.73 756.92 L680.54 756.11 L679.73 755.30 M686.22 752.05 L687.85 752.86 L688.66 753.67 L689.47 755.30 L689.47 756.92 L688.66 758.54 L686.22 760.17 L681.35 762.60 L679.73 764.23 L678.92 766.66 L678.92 769.10 M686.22 752.05 L688.66 752.86 L689.47 753.67 L690.28 755.30 L690.28 756.92 L689.47 758.54 L687.04 760.17 L682.98 761.79 M690.28 765.04 L690.28 766.66 M690.28 766.66 L689.47 767.48 L687.85 768.29 L685.41 768.29 L681.35 766.66 M690.28 766.66 L689.47 768.29 L688.66 769.10 L685.41 769.10 L681.35 766.66 M681.35 766.66 L679.73 766.66 L678.92 767.48 M696.78 767.48 L695.97 768.29 L696.78 769.10 L697.59 768.29 L696.78 767.48 M704.90 752.86 L708.96 752.86 L713.02 752.05 L704.90 752.05 L703.28 760.17 L704.90 758.54 L707.34 757.73 L709.77 757.73 M709.77 757.73 L711.40 758.54 L713.02 760.17 L713.83 762.60 L713.83 764.23 L713.02 766.66 L711.40 768.29 L709.77 769.10 M709.77 757.73 L712.21 758.54 L713.83 760.17 L714.64 762.60 L714.64 764.23 L713.83 766.66 L712.21 768.29 L709.77 769.10 M704.09 765.85 L704.90 765.04 L704.09 764.23 L703.28 765.04 L703.28 765.85 L704.09 767.48 L704.90 768.29 L707.34 769.10 L709.77 769.10 M112.21 715.95 L113.83 715.95 M112.21 715.95 L109.77 716.76 L108.15 719.20 L107.34 723.26 L107.34 725.69 L108.15 729.75 L109.77 732.19 L112.21 733.00 M112.21 715.95 L110.58 716.76 L109.77 717.57 L108.96 719.20 L108.15 723.26 L108.15 725.69 L108.96 729.75 L109.77 731.38 L110.58 732.19 L112.21 733.00 M113.83 715.95 L115.46 716.76 L116.27 717.57 L117.08 719.20 L117.89 723.26 L117.89 725.69 L117.08 729.75 L116.27 731.38 L115.46 732.19 L113.83 733.00 M113.83 715.95 L116.27 716.76 L117.89 719.20 L118.70 723.26 L118.70 725.69 L117.89 729.75 L116.27 732.19 L113.83 733.00 M112.21 733.00 L113.83 733.00 M125.20 731.38 L124.39 732.19 L125.20 733.00 L126.01 732.19 L125.20 731.38 M136.57 715.95 L138.19 715.95 M136.57 715.95 L134.13 716.76 L132.51 719.20 L131.70 723.26 L131.70 725.69 L132.51 729.75 L134.13 732.19 L136.57 733.00 M136.57 715.95 L134.94 716.76 L134.13 717.57 L133.32 719.20 L132.51 723.26 L132.51 725.69 L133.32 729.75 L134.13 731.38 L134.94 732.19 L136.57 733.00 M138.19 715.95 L139.82 716.76 L140.63 717.57 L141.44 719.20 L142.25 723.26 L142.25 725.69 L141.44 729.75 L140.63 731.38 L139.82 732.19 L138.19 733.00 M138.19 715.95 L140.63 716.76 L142.25 719.20 L143.06 723.26 L143.06 725.69 L142.25 729.75 L140.63 732.19 L138.19 733.00 M136.57 733.00 L138.19 733.00 M112.21 620.03 L113.83 620.03 M112.21 620.03 L109.77 620.84 L108.15 623.28 L107.34 627.34 L107.34 629.78 L108.15 633.84 L109.77 636.27 L112.21 637.08 M112.21 620.03 L110.58 620.84 L109.77 621.66 L108.96 623.28 L108.15 627.34 L108.15 629.78 L108.96 633.84 L109.77 635.46 L110.58 636.27 L112.21 637.08 M113.83 620.03 L115.46 620.84 L116.27 621.66 L117.08 623.28 L117.89 627.34 L117.89 629.78 L117.08 633.84 L116.27 635.46 L115.46 636.27 L113.83 637.08 M113.83 620.03 L116.27 620.84 L117.89 623.28 L118.70 627.34 L118.70 629.78 L117.89 633.84 L116.27 636.27 L113.83 637.08 M112.21 637.08 L113.83 637.08 M125.20 635.46 L124.39 636.27 L125.20 637.08 L126.01 636.27 L125.20 635.46 M139.00 620.03 L135.76 620.03 L133.32 620.84 L132.51 621.66 L131.70 623.28 L131.70 624.09 L132.51 624.90 L133.32 624.09 L132.51 623.28 M139.00 620.03 L140.63 620.84 L141.44 621.66 L142.25 623.28 L142.25 624.90 L141.44 626.53 L139.00 628.15 L134.13 630.59 L132.51 632.21 L131.70 634.65 L131.70 637.08 M139.00 620.03 L141.44 620.84 L142.25 621.66 L143.06 623.28 L143.06 624.90 L142.25 626.53 L139.82 628.15 L135.76 629.78 M143.06 633.02 L143.06 634.65 M143.06 634.65 L142.25 635.46 L140.63 636.27 L138.19 636.27 L134.13 634.65 M143.06 634.65 L142.25 636.27 L141.44 637.08 L138.19 637.08 L134.13 634.65 M134.13 634.65 L132.51 634.65 L131.70 635.46 M112.21 514.72 L113.83 514.72 M112.21 514.72 L109.77 515.53 L108.15 517.97 L107.34 522.03 L107.34 524.46 L108.15 528.52 L109.77 530.96 L112.21 531.77 M112.21 514.72 L110.58 515.53 L109.77 516.34 L108.96 517.97 L108.15 522.03 L108.15 524.46 L108.96 528.52 L109.77 530.15 L110.58 530.96 L112.21 531.77 M113.83 514.72 L115.46 515.53 L116.27 516.34 L117.08 517.97 L117.89 522.03 L117.89 524.46 L117.08 528.52 L116.27 530.15 L115.46 530.96 L113.83 531.77 M113.83 514.72 L116.27 515.53 L117.89 517.97 L118.70 522.03 L118.70 524.46 L117.89 528.52 L116.27 530.96 L113.83 531.77 M112.21 531.77 L113.83 531.77 M125.20 530.15 L124.39 530.96 L125.20 531.77 L126.01 530.96 L125.20 530.15 M139.82 531.77 L139.82 514.72 L130.88 526.90 L143.88 526.90 M139.00 516.34 L139.00 531.77 M136.57 531.77 L142.25 531.77 M112.21 409.40 L113.83 409.40 M112.21 409.40 L109.77 410.21 L108.15 412.65 L107.34 416.71 L107.34 419.15 L108.15 423.21 L109.77 425.64 L112.21 426.45 M112.21 409.40 L110.58 410.21 L109.77 411.03 L108.96 412.65 L108.15 416.71 L108.15 419.15 L108.96 423.21 L109.77 424.83 L110.58 425.64 L112.21 426.45 M113.83 409.40 L115.46 410.21 L116.27 411.03 L117.08 412.65 L117.89 416.71 L117.89 419.15 L117.08 423.21 L116.27 424.83 L115.46 425.64 L113.83 426.45 M113.83 409.40 L116.27 410.21 L117.89 412.65 L118.70 416.71 L118.70 419.15 L117.89 423.21 L116.27 425.64 L113.83 426.45 M112.21 426.45 L113.83 426.45 M125.20 424.83 L124.39 425.64 L125.20 426.45 L126.01 425.64 L125.20 424.83 M137.38 409.40 L139.82 409.40 L141.44 410.21 L142.25 411.84 L142.25 412.65 L141.44 413.46 L140.63 412.65 L141.44 411.84 M137.38 409.40 L134.94 410.21 L133.32 411.84 L132.51 413.46 L131.70 416.71 L131.70 421.58 L132.51 424.02 L134.13 425.64 L136.57 426.45 M137.38 409.40 L135.76 410.21 L134.13 411.84 L133.32 413.46 L132.51 416.71 L132.51 421.58 L133.32 424.02 L134.94 425.64 L136.57 426.45 M138.19 415.90 L137.38 415.90 L134.94 416.71 L133.32 418.33 L132.51 420.77 M138.19 415.90 L139.82 416.71 L141.44 418.33 L142.25 420.77 L142.25 421.58 L141.44 424.02 L139.82 425.64 L138.19 426.45 M138.19 415.90 L140.63 416.71 L142.25 418.33 L143.06 420.77 L143.06 421.58 L142.25 424.02 L140.63 425.64 L138.19 426.45 M136.57 426.45 L138.19 426.45 M112.21 304.09 L113.83 304.09 M112.21 304.09 L109.77 304.90 L108.15 307.33 L107.34 311.39 L107.34 313.83 L108.15 317.89 L109.77 320.33 L112.21 321.14 M112.21 304.09 L110.58 304.90 L109.77 305.71 L108.96 307.33 L108.15 311.39 L108.15 313.83 L108.96 317.89 L109.77 319.51 L110.58 320.33 L112.21 321.14 M113.83 304.09 L115.46 304.90 L116.27 305.71 L117.08 307.33 L117.89 311.39 L117.89 313.83 L117.08 317.89 L116.27 319.51 L115.46 320.33 L113.83 321.14 M113.83 304.09 L116.27 304.90 L117.89 307.33 L118.70 311.39 L118.70 313.83 L117.89 317.89 L116.27 320.33 L113.83 321.14 M112.21 321.14 L113.83 321.14 M125.20 319.51 L124.39 320.33 L125.20 321.14 L126.01 320.33 L125.20 319.51 M135.76 304.09 L139.00 304.09 M135.76 304.09 L133.32 304.90 L132.51 306.52 L132.51 308.96 L133.32 310.58 L135.76 311.39 M135.76 304.09 L134.13 304.90 L133.32 306.52 L133.32 308.96 L134.13 310.58 L135.76 311.39 M139.00 304.09 L140.63 304.90 L141.44 306.52 L141.44 308.96 L140.63 310.58 L139.00 311.39 M139.00 304.09 L141.44 304.90 L142.25 306.52 L142.25 308.96 L141.44 310.58 L139.00 311.39 M135.76 311.39 L139.00 311.39 M135.76 311.39 L133.32 312.21 L132.51 313.02 L131.70 314.64 L131.70 317.89 L132.51 319.51 L133.32 320.33 L135.76 321.14 M135.76 311.39 L134.13 312.21 L133.32 313.02 L132.51 314.64 L132.51 317.89 L133.32 319.51 L134.13 320.33 L135.76 321.14 M139.00 311.39 L140.63 312.21 L141.44 313.02 L142.25 314.64 L142.25 317.89 L141.44 319.51 L140.63 320.33 L139.00 321.14 M139.00 311.39 L141.44 312.21 L142.25 313.02 L143.06 314.64 L143.06 317.89 L142.25 319.51 L141.44 320.33 L139.00 321.14 M135.76 321.14 L139.00 321.14 M113.83 215.82 L113.83 198.77 L111.40 201.21 L109.77 202.02 M113.02 199.58 L113.02 215.82 M109.77 215.82 L117.08 215.82 M125.20 214.20 L124.39 215.01 L125.20 215.82 L126.01 215.01 L125.20 214.20 M136.57 198.77 L138.19 198.77 M136.57 198.77 L134.13 199.58 L132.51 202.02 L131.70 206.08 L131.70 208.52 L132.51 212.58 L134.13 215.01 L136.57 215.82 M136.57 198.77 L134.94 199.58 L134.13 200.40 L133.32 202.02 L132.51 206.08 L132.51 208.52 L133.32 212.58 L134.13 214.20 L134.94 215.01 L136.57 215.82 M138.19 198.77 L139.82 199.58 L140.63 200.40 L141.44 202.02 L142.25 206.08 L142.25 208.52 L141.44 212.58 L140.63 214.20 L139.82 215.01 L138.19 215.82 M138.19 198.77 L140.63 199.58 L142.25 202.02 L143.06 206.08 L143.06 208.52 L142.25 212.58 L140.63 215.01 L138.19 215.82 M136.57 215.82 L138.19 215.82 M113.83 110.51 L113.83 93.46 L111.40 95.89 L109.77 96.70 M113.02 94.27 L113.02 110.51 M109.77 110.51 L117.08 110.51 M125.20 108.88 L124.39 109.70 L125.20 110.51 L126.01 109.70 L125.20 108.88 M139.00 93.46 L135.76 93.46 L133.32 94.27 L132.51 95.08 L131.70 96.70 L131.70 97.52 L132.51 98.33 L133.32 97.52 L132.51 96.70 M139.00 93.46 L140.63 94.27 L141.44 95.08 L142.25 96.70 L142.25 98.33 L141.44 99.95 L139.00 101.58 L134.13 104.01 L132.51 105.64 L131.70 108.07 L131.70 110.51 M139.00 93.46 L141.44 94.27 L142.25 95.08 L143.06 96.70 L143.06 98.33 L142.25 99.95 L139.82 101.58 L135.76 103.20 M143.06 106.45 L143.06 108.07 M143.06 108.07 L142.25 108.88 L140.63 109.70 L138.19 109.70 L134.13 108.07 M143.06 108.07 L142.25 109.70 L141.44 110.51 L138.19 110.51 L134.13 108.07 M134.13 108.07 L132.51 108.07 L131.70 108.88 M471.24 794.23 L470.43 797.48 L470.43 794.23 L480.17 794.23 L471.24 805.60 M479.36 794.23 L470.43 805.60 L480.17 805.60 L480.17 802.35 L479.36 805.60 M356.03 90.09 L364.08 90.09 M364.08 90.09 L365.69 90.90 L367.30 92.51 L368.11 94.12 L368.91 96.53 L368.91 100.56 L368.11 102.97 L367.30 104.58 L365.69 106.19 L364.08 107.00 M364.08 90.09 L366.50 90.90 L368.11 92.51 L368.91 94.12 L369.72 96.53 L369.72 100.56 L368.91 102.97 L368.11 104.58 L366.50 106.19 L364.08 107.00 M358.45 90.09 L358.45 107.00 M359.25 90.09 L359.25 107.00 M364.08 107.00 L356.03 107.00 M373.74 95.73 L376.96 95.73 L376.96 104.58 L377.77 106.19 L379.38 107.00 M376.16 95.73 L376.16 104.58 L376.96 106.19 L379.38 107.00 M382.60 95.73 L385.82 95.73 L385.82 107.00 M385.01 95.73 L385.01 107.00 L388.23 107.00 M385.01 104.58 L383.40 106.19 L380.99 107.00 L379.38 107.00 M391.45 95.73 L394.67 95.73 L394.67 107.00 M393.87 95.73 L393.87 107.00 M400.31 95.73 L398.70 95.73 L396.28 96.53 L394.67 98.14 M400.31 95.73 L401.92 96.53 L402.72 98.14 L402.72 107.00 M400.31 95.73 L402.72 96.53 L403.53 98.14 L403.53 107.00 M391.45 107.00 L397.09 107.00 M400.31 107.00 L405.94 107.00 M409.16 90.09 L412.38 90.09 L412.38 107.00 M411.58 90.09 L411.58 107.00 M409.16 107.00 L414.80 107.00 M423.65 95.73 L425.26 95.73 M423.65 95.73 L421.24 96.53 L419.63 98.14 L418.82 100.56 L418.82 102.17 L419.63 104.58 L421.24 106.19 L423.65 107.00 M423.65 95.73 L422.04 96.53 L420.43 98.14 L419.63 100.56 L419.63 102.17 L420.43 104.58 L422.04 106.19 L423.65 107.00 M425.26 95.73 L426.87 96.53 L428.48 98.14 L429.29 100.56 L429.29 102.17 L428.48 104.58 L426.87 106.19 L425.26 107.00 M425.26 95.73 L427.68 96.53 L429.29 98.14 L430.09 100.56 L430.09 102.17 L429.29 104.58 L427.68 106.19 L425.26 107.00 M423.65 107.00 L425.26 107.00 M434.12 95.73 L437.34 95.73 L437.34 112.64 M436.53 95.73 L436.53 112.64 M442.17 95.73 L440.56 95.73 L438.95 96.53 L437.34 98.14 M442.17 95.73 L443.78 96.53 L445.39 98.14 L446.19 100.56 L446.19 102.17 L445.39 104.58 L443.78 106.19 L442.17 107.00 M442.17 95.73 L444.58 96.53 L446.19 98.14 L447.00 100.56 L447.00 102.17 L446.19 104.58 L444.58 106.19 L442.17 107.00 M437.34 104.58 L438.95 106.19 L440.56 107.00 L442.17 107.00 M434.12 112.64 L439.75 112.64 M467.93 94.12 L467.93 92.51 L468.73 90.90 L470.34 90.09 L471.95 90.90 L472.76 92.51 L472.76 94.12 L471.95 95.73 L470.34 97.34 L465.51 100.56 L464.71 102.17 L464.71 104.58 L465.51 106.19 L467.93 107.00 M467.93 94.12 L468.73 95.73 L475.17 104.58 L476.78 106.19 L478.39 107.00 M467.93 94.12 L468.73 96.53 M468.73 96.53 L470.34 98.95 L474.37 104.58 M468.73 96.53 L474.37 104.58 M474.37 104.58 L475.98 106.19 L478.39 107.00 M479.20 96.53 L478.39 97.34 L479.20 98.14 L480.00 97.34 L480.00 96.53 L479.20 95.73 L478.39 95.73 L477.59 96.53 L476.78 98.14 L475.17 102.17 L473.56 104.58 L471.95 106.19 L470.34 107.00 L467.93 107.00 M467.93 98.95 L466.32 100.56 L465.51 102.17 L465.51 104.58 L466.32 106.19 L467.93 107.00 M480.00 105.39 L480.00 106.19 L479.20 107.00 L478.39 107.00 M496.91 90.09 L506.57 90.09 M506.57 90.09 L508.18 90.90 L508.98 91.70 L509.79 93.31 L509.79 95.73 L508.98 97.34 L508.18 98.14 L506.57 98.95 M506.57 90.09 L508.98 90.90 L509.79 91.70 L510.59 93.31 L510.59 95.73 L509.79 97.34 L508.98 98.14 L506.57 98.95 M499.32 90.09 L499.32 107.00 M500.13 90.09 L500.13 107.00 M506.57 98.95 L500.13 98.95 M496.91 107.00 L502.54 107.00 M520.25 95.73 L522.67 95.73 L524.28 96.53 M520.25 95.73 L517.84 96.53 L516.23 98.14 L515.42 100.56 L515.42 102.17 L516.23 104.58 L517.84 106.19 L520.25 107.00 M520.25 95.73 L518.64 96.53 L517.03 98.14 L516.23 100.56 M524.28 96.53 L525.09 97.34 L525.89 98.95 L525.89 100.56 L516.23 100.56 M524.28 96.53 L525.09 98.14 L525.09 100.56 M516.23 100.56 L516.23 102.17 L517.03 104.58 L518.64 106.19 L520.25 107.00 M525.89 104.58 L524.28 106.19 L521.87 107.00 L520.25 107.00 M539.57 97.34 L538.77 96.53 L537.16 95.73 L533.94 95.73 L532.33 96.53 L531.52 97.34 L531.52 98.14 L532.33 98.14 L532.33 97.34 M539.57 97.34 L540.38 98.95 L540.38 104.58 L541.18 106.19 L541.99 107.00 M539.57 97.34 L539.57 104.58 M539.57 104.58 L537.96 106.19 L536.35 107.00 L533.94 107.00 M539.57 104.58 L540.38 106.19 L541.99 107.00 M539.57 98.95 L538.77 99.75 L533.94 100.56 M533.94 100.56 L531.52 101.36 L530.72 102.97 L530.72 104.58 L531.52 106.19 L533.94 107.00 M533.94 100.56 L532.33 101.36 L531.52 102.97 L531.52 104.58 L532.33 106.19 L533.94 107.00 M541.99 107.00 L542.79 107.00 M551.65 95.73 L554.06 95.73 L555.67 96.53 L557.28 98.14 L557.28 98.95 L556.48 99.75 L555.67 98.95 L556.48 98.14 M551.65 95.73 L549.24 96.53 L547.62 98.14 L546.82 100.56 L546.82 102.17 L547.62 104.58 L549.24 106.19 L551.65 107.00 M551.65 95.73 L550.04 96.53 L548.43 98.14 L547.62 100.56 L547.62 102.17 L548.43 104.58 L550.04 106.19 L551.65 107.00 M557.28 104.58 L555.67 106.19 L553.26 107.00 L551.65 107.00 M566.94 95.73 L568.55 95.73 M566.94 95.73 L564.53 96.53 L562.92 98.14 L562.11 100.56 L562.11 102.17 L562.92 104.58 L564.53 106.19 L566.94 107.00 M566.94 95.73 L565.33 96.53 L563.72 98.14 L562.92 100.56 L562.92 102.17 L563.72 104.58 L565.33 106.19 L566.94 107.00 M568.55 95.73 L570.16 96.53 L571.77 98.14 L572.58 100.56 L572.58 102.17 L571.77 104.58 L570.16 106.19 L568.55 107.00 M568.55 95.73 L570.97 96.53 L572.58 98.14 L573.38 100.56 L573.38 102.17 L572.58 104.58 L570.97 106.19 L568.55 107.00 M566.94 107.00 L568.55 107.00 M583.04 95.73 L585.46 95.73 L587.07 96.53 L588.68 98.14 L588.68 98.95 L587.88 99.75 L587.07 98.95 L587.88 98.14 M583.04 95.73 L580.63 96.53 L579.02 98.14 L578.21 100.56 L578.21 102.17 L579.02 104.58 L580.63 106.19 L583.04 107.00 M583.04 95.73 L581.43 96.53 L579.82 98.14 L579.02 100.56 L579.02 102.17 L579.82 104.58 L581.43 106.19 L583.04 107.00 M588.68 104.58 L587.07 106.19 L584.65 107.00 L583.04 107.00 M592.70 90.09 L595.92 90.09 L595.92 107.00 M595.12 90.09 L595.12 107.00 M601.56 95.73 L606.39 95.73 M603.97 95.73 L595.92 103.78 M599.14 100.56 L603.97 107.00 M599.95 100.56 L604.78 107.00 M592.70 107.00 L598.34 107.00 M601.56 107.00 L606.39 107.00 M421.24 119.40 L424.46 119.40 L424.46 136.30 M423.65 119.40 L423.65 136.30 L426.88 136.30 M418.82 125.03 L420.44 125.03 L422.04 125.84 L423.65 127.45 M418.82 125.03 L416.41 125.84 L414.80 127.45 L414.00 129.86 L414.00 131.47 L414.80 133.89 L416.41 135.50 L418.82 136.30 M418.82 125.03 L417.21 125.84 L415.60 127.45 L414.80 129.86 L414.80 131.47 L415.60 133.89 L417.21 135.50 L418.82 136.30 M423.65 133.89 L422.04 135.50 L420.44 136.30 L418.82 136.30 M435.73 125.03 L438.15 125.03 L439.75 125.84 M435.73 125.03 L433.31 125.84 L431.71 127.45 L430.90 129.86 L430.90 131.47 L431.71 133.89 L433.31 135.50 L435.73 136.30 M435.73 125.03 L434.12 125.84 L432.51 127.45 L431.71 129.86 M439.75 125.84 L440.56 126.64 L441.37 128.25 L441.37 129.86 L431.71 129.86 M439.75 125.84 L440.56 127.45 L440.56 129.86 M431.71 129.86 L431.71 131.47 L432.51 133.89 L434.12 135.50 L435.73 136.30 M441.37 133.89 L439.75 135.50 L437.34 136.30 L435.73 136.30 M459.88 119.40 L459.08 124.23 L459.08 119.40 L470.35 119.40 L459.88 136.30 M469.54 119.40 L459.08 136.30 L470.35 136.30 L470.35 131.47 L469.54 136.30 M480.01 125.03 L481.62 125.03 M480.01 125.03 L477.59 125.84 L475.98 127.45 L475.18 129.86 L475.18 131.47 L475.98 133.89 L477.59 135.50 L480.01 136.30 M480.01 125.03 L478.40 125.84 L476.79 127.45 L475.98 129.86 L475.98 131.47 L476.79 133.89 L478.40 135.50 L480.01 136.30 M481.62 125.03 L483.23 125.84 L484.84 127.45 L485.64 129.86 L485.64 131.47 L484.84 133.89 L483.23 135.50 L481.62 136.30 M481.62 125.03 L484.03 125.84 L485.64 127.45 L486.45 129.86 L486.45 131.47 L485.64 133.89 L484.03 135.50 L481.62 136.30 M480.01 136.30 L481.62 136.30 M492.89 119.40 L492.89 133.08 L493.69 135.50 L495.30 136.30 M493.69 119.40 L493.69 133.08 L494.50 135.50 L495.30 136.30 M490.47 125.03 L496.91 125.03 M499.33 133.89 L498.52 135.50 L496.91 136.30 L495.30 136.30 M504.96 119.40 L504.96 133.08 L505.77 135.50 L507.38 136.30 M505.77 119.40 L505.77 133.08 L506.57 135.50 L507.38 136.30 M502.55 125.03 L508.99 125.03 M511.40 133.89 L510.60 135.50 L508.99 136.30 L507.38 136.30 M514.62 125.03 L517.84 125.03 L517.84 136.30 M517.04 125.03 L517.04 136.30 M514.62 136.30 L520.26 136.30 M517.04 119.40 L516.23 120.20 L517.04 121.01 L517.84 120.20 L517.04 119.40 M541.99 125.03 L544.41 125.03 L546.02 125.84 M541.99 125.03 L539.58 125.84 L537.97 127.45 L537.16 129.86 L537.16 131.47 L537.97 133.89 L539.58 135.50 L541.99 136.30 M541.99 125.03 L540.38 125.84 L538.77 127.45 L537.97 129.86 M546.02 125.84 L546.82 126.64 L547.63 128.25 L547.63 129.86 L537.97 129.86 M546.02 125.84 L546.82 127.45 L546.82 129.86 M537.97 129.86 L537.97 131.47 L538.77 133.89 L540.38 135.50 L541.99 136.30 M547.63 133.89 L546.02 135.50 L543.60 136.30 L541.99 136.30 M554.07 119.40 L554.07 133.08 L554.87 135.50 L556.48 136.30 M554.87 119.40 L554.87 133.08 L555.68 135.50 L556.48 136.30 M551.65 125.03 L558.09 125.03 M560.51 133.89 L559.70 135.50 L558.09 136.30 L556.48 136.30 M586.27 126.64 L585.46 125.84 L583.85 125.03 L580.63 125.03 L579.02 125.84 L578.22 126.64 L578.22 127.45 L579.02 127.45 L579.02 126.64 M586.27 126.64 L587.07 128.25 L587.07 133.89 L587.88 135.50 L588.68 136.30 M586.27 126.64 L586.27 133.89 M586.27 133.89 L584.66 135.50 L583.05 136.30 L580.63 136.30 M586.27 133.89 L587.07 135.50 L588.68 136.30 M586.27 128.25 L585.46 129.06 L580.63 129.86 M580.63 129.86 L578.22 130.67 L577.41 132.28 L577.41 133.89 L578.22 135.50 L580.63 136.30 M580.63 129.86 L579.02 130.67 L578.22 132.28 L578.22 133.89 L579.02 135.50 L580.63 136.30 M588.68 136.30 L589.49 136.30 M592.71 119.40 L595.93 119.40 L595.93 136.30 M595.12 119.40 L595.12 136.30 M592.71 136.30 L598.34 136.30 M603.98 134.69 L603.17 135.50 L603.98 136.30 L604.78 135.50 L603.98 134.69 M488.06 148.69 L493.69 148.69 M490.47 148.69 L490.47 165.60 M491.27 148.69 L491.27 165.60 M498.52 148.69 L504.15 148.69 M500.94 148.69 L500.94 165.60 M501.74 148.69 L501.74 165.60 M491.27 156.75 L500.94 156.75 M488.06 165.60 L493.69 165.60 M498.52 165.60 L504.15 165.60 M513.01 154.33 L514.62 154.33 M513.01 154.33 L510.59 155.13 L508.99 156.75 L508.18 159.16 L508.18 160.77 L508.99 163.19 L510.59 164.79 L513.01 165.60 M513.01 154.33 L511.40 155.13 L509.79 156.75 L508.99 159.16 L508.99 160.77 L509.79 163.19 L511.40 164.79 L513.01 165.60 M514.62 154.33 L516.23 155.13 L517.84 156.75 L518.64 159.16 L518.64 160.77 L517.84 163.19 L516.23 164.79 L514.62 165.60 M514.62 154.33 L517.03 155.13 L518.64 156.75 L519.45 159.16 L519.45 160.77 L518.64 163.19 L517.03 164.79 L514.62 165.60 M513.01 165.60 L514.62 165.60 M541.99 154.33 L544.40 154.33 L546.01 155.13 M541.99 154.33 L539.58 155.13 L537.97 156.75 L537.16 159.16 L537.16 160.77 L537.97 163.19 L539.58 164.79 L541.99 165.60 M541.99 154.33 L540.38 155.13 L538.77 156.75 L537.97 159.16 M546.01 155.13 L546.82 155.94 L547.62 157.55 L547.62 159.16 L537.97 159.16 M546.01 155.13 L546.82 156.75 L546.82 159.16 M537.97 159.16 L537.97 160.77 L538.77 163.19 L540.38 164.79 L541.99 165.60 M547.62 163.19 L546.01 164.79 L543.60 165.60 L541.99 165.60 M554.06 148.69 L554.06 162.38 L554.87 164.79 L556.48 165.60 M554.87 148.69 L554.87 162.38 L555.67 164.79 L556.48 165.60 M551.65 154.33 L558.09 154.33 M560.50 163.19 L559.70 164.79 L558.09 165.60 L556.48 165.60 M586.26 155.94 L585.46 155.13 L583.85 154.33 L580.63 154.33 L579.02 155.13 L578.22 155.94 L578.22 156.75 L579.02 156.75 L579.02 155.94 M586.26 155.94 L587.07 157.55 L587.07 163.19 L587.88 164.79 L588.68 165.60 M586.26 155.94 L586.26 163.19 M586.26 163.19 L584.65 164.79 L583.04 165.60 L580.63 165.60 M586.26 163.19 L587.07 164.79 L588.68 165.60 M586.26 157.55 L585.46 158.35 L580.63 159.16 M580.63 159.16 L578.22 159.97 L577.41 161.57 L577.41 163.19 L578.22 164.79 L580.63 165.60 M580.63 159.16 L579.02 159.97 L578.22 161.57 L578.22 163.19 L579.02 164.79 L580.63 165.60 M588.68 165.60 L589.49 165.60 M592.71 148.69 L595.93 148.69 L595.93 165.60 M595.12 148.69 L595.12 165.60 M592.71 165.60 L598.34 165.60 M603.98 163.99 L603.17 164.79 L603.98 165.60 L604.78 164.79 L603.98 163.99" fill="none" stroke="#000" stroke-width="2.30" stroke-linecap="round" stroke-linejoin="round"/>
<path d="M49.64 418.13 L51.33 420.30 L53.98 421.75 L56.63 421.99 L58.80 421.02 L60.24 418.61 L60.72 416.20 L60.48 413.80 L59.28 411.39 L56.87 409.46 L53.98 408.25 L51.08 408.01 L49.40 408.98 L48.67 410.90 L49.16 412.59 L51.08 414.04 L54.46 415.24 L58.31 416.45 L61.69 417.65 L66.02 418.61" fill="none" stroke="#000" stroke-width="2.30" stroke-linecap="round" stroke-linejoin="round"/>
<g transform="translate(62.00 394.80) rotate(-90)"><path d="M8.93 -20.30 L7.31 -18.68 M7.31 -18.68 L5.68 -16.24 L4.06 -12.99 L3.25 -8.93 L3.25 -5.68 L4.06 -1.62 L5.68 1.62 L7.31 4.06 M7.31 -18.68 L5.68 -15.43 L4.87 -12.99 L4.06 -8.93 L4.06 -5.68 L4.87 -1.62 L5.68 0.81 L7.31 4.06 M7.31 4.06 L8.93 5.68 M14.62 -11.37 L13.80 -8.12 L13.80 -11.37 L23.55 -11.37 L14.62 0.00 M22.74 -11.37 L13.80 0.00 L23.55 0.00 L23.55 -3.25 L22.74 0.00 M28.42 -20.30 L30.04 -18.68 M30.04 -18.68 L31.67 -16.24 L33.29 -12.99 L34.10 -8.93 L34.10 -5.68 L33.29 -1.62 L31.67 1.62 L30.04 4.06 M30.04 -18.68 L31.67 -15.43 L32.48 -12.99 L33.29 -8.93 L33.29 -5.68 L32.48 -1.62 L31.67 0.81 L30.04 4.06 M30.04 4.06 L28.42 5.68" fill="none" stroke="#000" stroke-width="2.30" stroke-linecap="round" stroke-linejoin="round"/></g>
<path d="M627.7 99.25 H738.5" stroke="#ff0000" stroke-width="2.50" fill="none"/>
<path d="M627.7 128.70 H737.5" stroke="#0000ff" stroke-width="2.50" fill="none" stroke-dasharray="14 13.6"/>
<path d="M627.7 157.90 H737.5" stroke="#228b22" stroke-width="2.50" fill="none" stroke-dasharray="14 6.9 3.4 6.9"/>
</svg>
</body></html>
